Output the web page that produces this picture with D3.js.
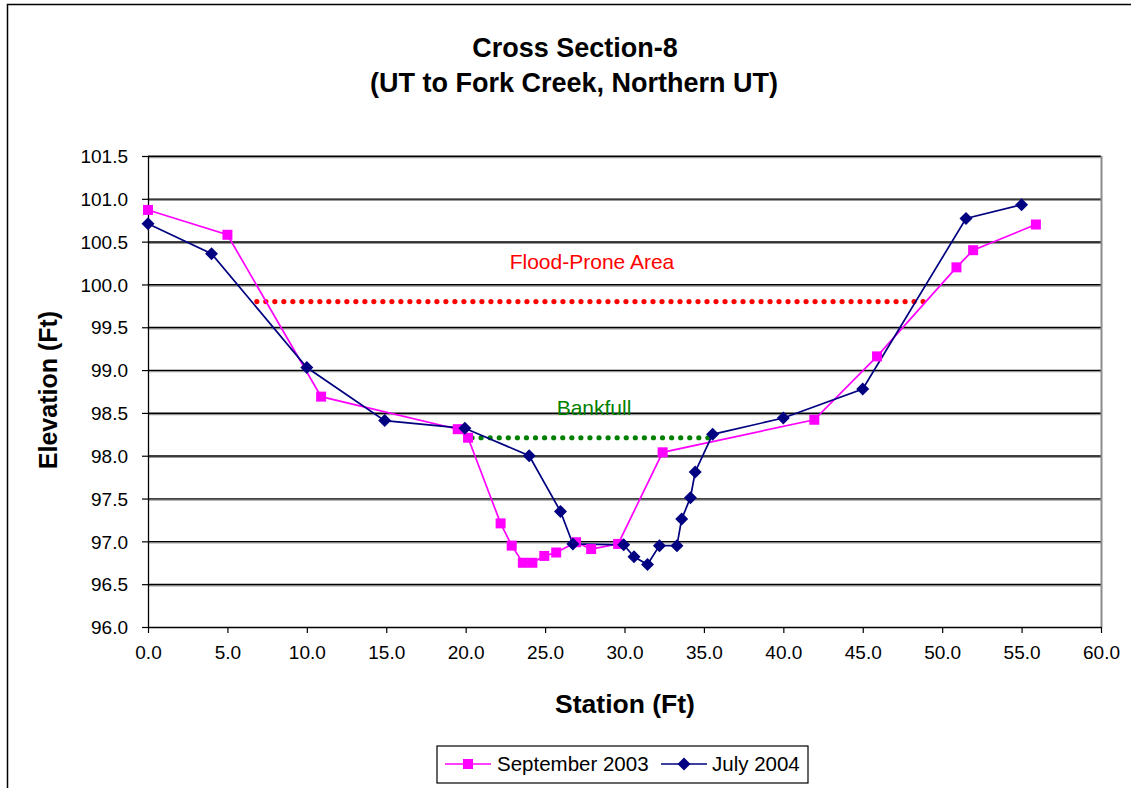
<!DOCTYPE html>
<html>
<head>
<meta charset="utf-8">
<script src="https://cdn.jsdelivr.net/npm/d3@7"></script>
<style>
  html, body { margin: 0; padding: 0; background: #fff; }
  svg { display: block; font-family: "Liberation Sans", Arial, sans-serif; }
</style>
</head>
<body>
<svg id="chart" width="1131" height="788"></svg>
<script>
// Survey of cross section 8: station (ft) vs elevation (ft)
const sep2003Station = [0, 5, 10.9, 19.5, 20.15, 22.2, 22.9, 23.6, 24.2, 24.95, 25.7, 26.95, 27.9, 29.6, 32.4, 41.95, 45.9, 50.9, 51.95, 55.9];
const sep2003Elev    = [100.87, 100.58, 98.69, 98.31, 98.21, 97.21, 96.95, 96.75, 96.75, 96.83, 96.87, 96.99, 96.91, 96.97, 98.04, 98.42, 99.16, 100.2, 100.4, 100.7];

const jul2004Station = [0, 4.0, 10.0, 14.9, 19.95, 24.0, 25.97, 26.75, 29.95, 30.6, 31.45, 32.2, 33.3, 33.6, 34.15, 34.45, 35.55, 40.0, 45.0, 51.5, 55.0];
const jul2004Elev    = [100.71, 100.36, 99.03, 98.41, 98.32, 98.0, 97.35, 96.97, 96.96, 96.82, 96.73, 96.95, 96.95, 97.26, 97.51, 97.81, 98.25, 98.44, 98.78, 100.77, 100.93];

// Reference stages
const floodProne = { label: "Flood-Prone Area", from: 6.85, to: 48.8, elev: 99.8 };
const bankfull   = { label: "Bankfull", from: 20.4, to: 35.25, elev: 98.21 };

const xTicks = [0, 5, 10, 15, 20, 25, 30, 35, 40, 45, 50, 55, 60];
const yTicks = [96.0, 96.5, 97.0, 97.5, 98.0, 98.5, 99.0, 99.5, 100.0, 100.5, 101.0, 101.5];

const seriesNames = ["September 2003", "July 2004"];
const seriesColors = ["#ff00ff", "#000080"];

const svg = d3.select("#chart");

// Chart frame
svg.append("rect")
  .attr("x", 7.5).attr("y", 4.5).attr("width", 1140).attr("height", 800)
  .attr("fill", "none").attr("stroke", "#000").attr("stroke-width", 1.5);

const plot = { left: 148, right: 1101, top: 156, bottom: 627 };
const x = d3.scaleLinear().domain([0, 60]).range([plot.left, plot.right]);
const y = d3.scaleLinear().domain([96, 101.5]).range([plot.bottom, plot.top]);

// Horizontal gridlines with a light shadow underneath
const grid = svg.append("g");
yTicks.slice(1).forEach(t => {
  grid.append("line")
    .attr("x1", plot.left).attr("x2", plot.right)
    .attr("y1", y(t) + 1.6).attr("y2", y(t) + 1.6)
    .attr("stroke", "#9a9a9a").attr("stroke-width", 1.3);
  grid.append("line")
    .attr("x1", plot.left).attr("x2", plot.right)
    .attr("y1", y(t) + 0.3).attr("y2", y(t) + 0.3)
    .attr("stroke", "#000").attr("stroke-width", 1.4);
});

// Right edge of the plot area
svg.append("line")
  .attr("x1", plot.right + 0.5).attr("x2", plot.right + 0.5)
  .attr("y1", plot.top).attr("y2", plot.bottom)
  .attr("stroke", "#8c8c8c").attr("stroke-width", 2);

// Axes
const xAxis = d3.axisBottom(x).tickValues(xTicks).tickFormat(d3.format(".1f"))
  .tickSizeInner(6).tickSizeOuter(0).tickPadding(13);
const yAxis = d3.axisLeft(y).tickValues(yTicks).tickFormat(d3.format(".1f"))
  .tickSizeInner(6).tickSizeOuter(0).tickPadding(14);

const gx = svg.append("g").attr("transform", `translate(0,${plot.bottom})`).call(xAxis);
const gy = svg.append("g").attr("transform", `translate(${plot.left},0)`).call(yAxis);
[gx, gy].forEach(g => {
  g.selectAll("path.domain").attr("stroke", "#000").attr("stroke-width", 1.3);
  g.selectAll(".tick line").attr("stroke", "#000").attr("stroke-width", 1.2);
  g.selectAll(".tick text").attr("fill", "#000")
    .style("font-family", "'Liberation Sans', Arial, sans-serif").style("font-size", "19px");
});
gx.selectAll(".tick text").attr("dy", "0.71em");
gy.selectAll(".tick text").attr("dy", "0.35em");

// Dotted stage lines
function dottedLine(stage, color) {
  const step = 9.05;
  const n = Math.round((x(stage.to) - x(stage.from)) / step);
  const dots = d3.range(n + 1).map(i => x(stage.from) + i * (x(stage.to) - x(stage.from)) / n);
  svg.append("g").selectAll("circle").data(dots).join("circle")
    .attr("cx", d => d).attr("cy", y(stage.elev)).attr("r", 2.6).attr("fill", color);
}
dottedLine(floodProne, "#ff0000");
dottedLine(bankfull, "#008000");

svg.append("text").attr("x", 592).attr("y", 269).attr("text-anchor", "middle")
  .attr("fill", "#ff0000").style("font-size", "21px").text(floodProne.label);
svg.append("text").attr("x", 594).attr("y", 415).attr("text-anchor", "middle")
  .attr("fill", "#008000").style("font-size", "21px").text(bankfull.label);

// Survey lines
const line = d3.line().x(d => x(d[0])).y(d => y(d[1]));
const sepData = sep2003Station.map((s, i) => [s, sep2003Elev[i]]);
const julData = jul2004Station.map((s, i) => [s, jul2004Elev[i]]);

svg.append("path").datum(sepData).attr("d", line)
  .attr("fill", "none").attr("stroke", seriesColors[0]).attr("stroke-width", 1.7);
svg.append("path").datum(julData).attr("d", line)
  .attr("fill", "none").attr("stroke", seriesColors[1]).attr("stroke-width", 1.7);

// Square and 45-degree diamond markers
const sq = d3.symbol().type(d3.symbolSquare).size(100)();
const dm = "M0,-6.5L6.5,0L0,6.5L-6.5,0Z";

svg.append("g").selectAll("path").data(sepData).join("path")
  .attr("d", sq).attr("transform", d => `translate(${x(d[0])},${y(d[1])})`)
  .attr("fill", seriesColors[0]);
svg.append("g").selectAll("path").data(julData).join("path")
  .attr("d", dm).attr("transform", d => `translate(${x(d[0])},${y(d[1])})`)
  .attr("fill", seriesColors[1]);

// Titles
svg.append("text").attr("x", 575).attr("y", 57).attr("text-anchor", "middle")
  .style("font-size", "27px").style("font-weight", "bold").text("Cross Section-8");
svg.append("text").attr("x", 574).attr("y", 92).attr("text-anchor", "middle")
  .style("font-size", "27px").style("font-weight", "bold").text("(UT to Fork Creek, Northern UT)");

svg.append("text").attr("x", 625).attr("y", 713).attr("text-anchor", "middle")
  .style("font-size", "26.5px").style("font-weight", "bold").text("Station (Ft)");
svg.append("text").attr("transform", "translate(57,390) rotate(-90)").attr("text-anchor", "middle")
  .style("font-size", "25px").style("font-weight", "bold").text("Elevation (Ft)");

// Legend
const legend = svg.append("g");
legend.append("rect").attr("x", 437).attr("y", 746).attr("width", 371).attr("height", 37)
  .attr("fill", "#fff").attr("stroke", "#000").attr("stroke-width", 1.2);
const legendItems = [
  { x1: 445, x2: 491, text: 497, sym: sq },
  { x1: 661, x2: 707, text: 712, sym: dm }
];
legendItems.forEach((it, i) => {
  legend.append("line").attr("x1", it.x1).attr("x2", it.x2).attr("y1", 764).attr("y2", 764)
    .attr("stroke", seriesColors[i]).attr("stroke-width", 1.7);
  legend.append("path").attr("d", it.sym)
    .attr("transform", `translate(${(it.x1 + it.x2) / 2},764)`).attr("fill", seriesColors[i]);
  legend.append("text").attr("x", it.text).attr("y", 771)
    .style("font-size", "20.5px").text(seriesNames[i]);
});
</script>
</body>
</html>
